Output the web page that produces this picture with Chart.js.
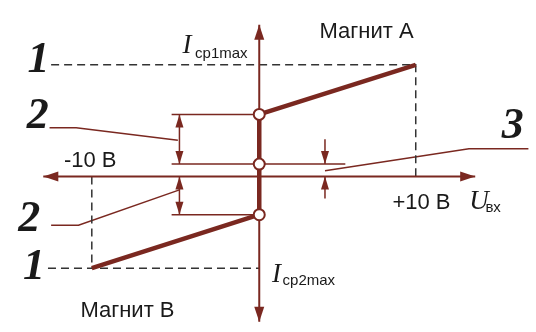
<!DOCTYPE html>
<html>
<head>
<meta charset="utf-8">
<script src="https://cdn.jsdelivr.net/npm/chart.js@4.4.1/dist/chart.umd.min.js"></script>
<style>
html, body { margin: 0; padding: 0; background: #fff; }
#wrap { width: 536px; height: 332px; }
</style>
</head>
<body>
<div id="wrap"><canvas id="myChart" width="536" height="332"></canvas></div>
<script>
// Характеристика: U вх (В) -> ток (усл. ед.)
var uChar = [-10.7, 0, 0, 10];
var iChar = [-9.6, -4.0, 6.5, 11.7];

// Точки на оси тока (кружки)
var iMarks = [6.5, 1.3, -4.0];

// Пределы: -10 В / +10 В и Iср2max / Iср1max
var uLimits = [-10.7, 10];
var iLimits = [-9.6, 11.7];

// Оси
var axisU = [-13.8, 13.8];
var axisI = [-15.2, 15.9];

var red = '#7a2820';
var dark = '#333333';
var ink = '#1a1a1a';

function line(xs, ys, color, width, dash) {
    return {
        data: xs.map(function (x, i) { return { x: x, y: ys[i] }; }),
        showLine: true,
        borderColor: color,
        borderWidth: width,
        borderDash: dash || [],
        pointRadius: 0,
        pointHoverRadius: 0,
        tension: 0,
        fill: false,
        clip: false
    };
}

// наконечники стрелок: острие в точке (x, y)
var arrowHeads = [
    { x: 0, y: axisI[1], dir: 'up', len: 15, w: 5 },
    { x: 0, y: axisI[0], dir: 'down', len: 15, w: 5 },
    { x: axisU[0], y: 0, dir: 'left', len: 15, w: 5 },
    { x: axisU[1], y: 0, dir: 'right', len: 15, w: 5 },
    { x: -5.1, y: iMarks[0], dir: 'up', len: 13, w: 4 },
    { x: -5.1, y: iMarks[1], dir: 'down', len: 13, w: 4 },
    { x: -5.1, y: 0, dir: 'up', len: 13, w: 4 },
    { x: -5.1, y: iMarks[2], dir: 'down', len: 13, w: 4 },
    { x: 4.2, y: iMarks[1], dir: 'down', len: 13, w: 4 },
    { x: 4.2, y: 0, dir: 'up', len: 13, w: 4 }
];

var numFont = 'italic bold 44px "Liberation Serif", "DejaVu Serif", serif';
var sansFont = '22px "Liberation Sans", Arial, sans-serif';
var symFont = 'italic 27px "Liberation Serif", serif';
var subFont = '15px "Liberation Sans", Arial, sans-serif';

var texts = [
    { t: '1', x: -14.1, y: 10.9, font: numFont, align: 'center' },
    { t: '2', x: -14.16, y: 5.1, font: numFont, align: 'center' },
    { t: '2', x: -14.7, y: -5.7, font: numFont, align: 'center' },
    { t: '1', x: -14.4, y: -10.7, font: numFont, align: 'center' },
    { t: '3', x: 16.2, y: 4.0, font: numFont, align: 'center' },
    { t: 'Магнит А', x: 3.85, y: 14.5, font: sansFont, align: 'left' },
    { t: 'Магнит В', x: -11.43, y: -14.7, font: sansFont, align: 'left' },
    { t: '-10 В', x: -12.48, y: 1.0, font: sansFont, align: 'left' },
    { t: '+10 В', x: 8.51, y: -3.4, font: sansFont, align: 'left' },
    { t: 'U', x: 13.42, y: -3.4, font: symFont, align: 'left' },
    { t: 'вх', x: 14.45, y: -3.7, font: subFont, align: 'left' },
    { t: 'I', x: -4.91, y: 12.9, font: symFont, align: 'left' },
    { t: 'ср1max', x: -4.1, y: 12.4, font: subFont, align: 'left' },
    { t: 'I', x: 0.81, y: -11.0, font: symFont, align: 'left' },
    { t: 'ср2max', x: 1.49, y: -11.4, font: subFont, align: 'left' }
];

var decorPlugin = {
    id: 'decor',
    afterDatasetsDraw: function (chart) {
        var ctx = chart.ctx;
        var xs = chart.scales.x, ys = chart.scales.y;
        ctx.save();
        ctx.fillStyle = red;
        arrowHeads.forEach(function (a) {
            var px = xs.getPixelForValue(a.x), py = ys.getPixelForValue(a.y);
            ctx.beginPath();
            ctx.moveTo(px, py);
            if (a.dir === 'up') { ctx.lineTo(px - a.w, py + a.len); ctx.lineTo(px + a.w, py + a.len); }
            if (a.dir === 'down') { ctx.lineTo(px - a.w, py - a.len); ctx.lineTo(px + a.w, py - a.len); }
            if (a.dir === 'left') { ctx.lineTo(px + a.len, py - a.w); ctx.lineTo(px + a.len, py + a.w); }
            if (a.dir === 'right') { ctx.lineTo(px - a.len, py - a.w); ctx.lineTo(px - a.len, py + a.w); }
            ctx.closePath();
            ctx.fill();
        });
        ctx.fillStyle = ink;
        ctx.textBaseline = 'alphabetic';
        texts.forEach(function (t) {
            ctx.font = t.font;
            ctx.textAlign = t.align;
            ctx.fillText(t.t, xs.getPixelForValue(t.x), ys.getPixelForValue(t.y));
        });
        ctx.restore();
    }
};

var datasets = [
    // кружки
    {
        data: iMarks.map(function (v) { return { x: 0, y: v }; }),
        showLine: false,
        pointStyle: 'circle',
        pointRadius: 5.5,
        pointHoverRadius: 5.5,
        pointBackgroundColor: '#ffffff',
        pointBorderColor: red,
        pointBorderWidth: 2,
        clip: false
    },
    // характеристика
    line(uChar, iChar, red, 4.5),
    // оси
    line(axisU, [0, 0], red, 2),
    line([0, 0], axisI, red, 2),
    // пунктирные пределы
    line([-13.3, uLimits[1], uLimits[1]], [iLimits[1], iLimits[1], 0], dark, 1.5, [8, 5]),
    line([-13.5, 0], [iLimits[0], iLimits[0]], dark, 1.5, [8, 5]),
    line([uLimits[0], uLimits[0]], [0, iLimits[0]], dark, 1.5, [8, 5]),
    // выносные линии
    line([-5.6, 0], [iMarks[0], iMarks[0]], red, 1.5),
    line([-5.6, 5.5], [iMarks[1], iMarks[1]], red, 1.5),
    line([-5.6, 0], [iMarks[2], iMarks[2]], red, 1.5),
    // размерные линии
    line([-5.1, -5.1], [iMarks[0], iMarks[1]], red, 1.5),
    line([-5.1, -5.1], [0, iMarks[2]], red, 1.5),
    line([4.2, 4.2], [3.9, iMarks[1]], red, 1.5),
    line([4.2, 4.2], [0, -2.3], red, 1.5),
    // линии-выноски к цифрам
    line([-13.4, -11.7, -5.2], [5.1, 5.1, 3.8], red, 1.5),
    line([-13.3, -11.55, -5.1], [-5.1, -5.1, -1.4], red, 1.5),
    line([4.2, 13.4, 17.2], [0.6, 2.9, 2.9], red, 1.5)
];

var ctx = document.getElementById('myChart').getContext('2d');
var myChart = new Chart(ctx, {
    type: 'scatter',
    data: { datasets: datasets },
    options: {
        responsive: false,
        animation: false,
        layout: { padding: 0 },
        plugins: {
            legend: { display: false },
            tooltip: { enabled: false }
        },
        scales: {
            x: { type: 'linear', display: false, min: -16.087, max: 17.205 },
            y: { type: 'linear', display: false, min: -15.5, max: 17.7 }
        }
    },
    plugins: [decorPlugin]
});
</script>
</body>
</html>
